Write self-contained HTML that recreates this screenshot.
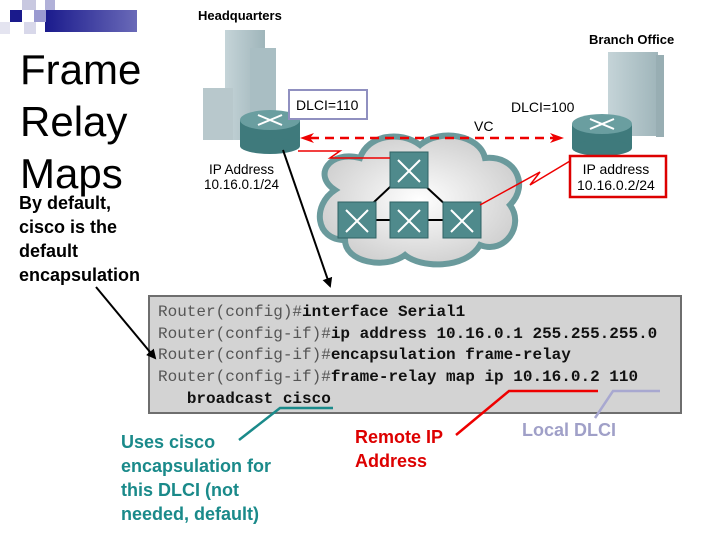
<!DOCTYPE html>
<html><head><meta charset="utf-8">
<style>
body{margin:0;width:720px;height:540px;background:#fff;position:relative;overflow:hidden;font-family:"Liberation Sans",sans-serif}
.t{position:absolute;white-space:nowrap}
.code{position:absolute;left:148px;top:295px;width:534px;height:119px;background:#d3d3d3;border:2px solid #6e6e6e;box-sizing:border-box;font-family:"Liberation Mono",monospace;font-size:16px;line-height:21.7px;padding:5px 0 0 8px;color:#555;white-space:pre}
.code b{color:#111}
</style></head><body>
<svg width="720" height="540" style="position:absolute;left:0;top:0">
<defs>
<linearGradient id="bl" x1="0" x2="1"><stop offset="0" stop-color="#1a1a8c"/><stop offset="1" stop-color="#6a6ab8"/></linearGradient>
<linearGradient id="bd" x1="0" x2="1"><stop offset="0" stop-color="#c5d4d8"/><stop offset="1" stop-color="#9fb5ba"/></linearGradient>
<radialGradient id="cl" cx="0.5" cy="0.5" r="0.6"><stop offset="0" stop-color="#fff"/><stop offset="1" stop-color="#c9c9c9"/></radialGradient>
<marker id="ab" markerWidth="10" markerHeight="10" refX="8" refY="5" orient="auto" markerUnits="userSpaceOnUse"><path d="M0,0L10,5L0,10z" fill="#000"/></marker>
<marker id="ar" markerWidth="14" markerHeight="10" refX="12" refY="5" orient="auto" markerUnits="userSpaceOnUse"><path d="M0,0L14,5L0,10L4,5z" fill="#e00"/></marker>
</defs>
<rect x="45" y="10" width="92" height="22" fill="url(#bl)"/>
<rect x="10" y="10" width="12" height="12" fill="#1a1a8c"/>
<rect x="22" y="0" width="14" height="10" fill="#c8c8e0"/>
<rect x="34" y="10" width="12" height="12" fill="#9a9ad0"/>
<rect x="24" y="22" width="12" height="12" fill="#d8d8ea"/>
<rect x="0" y="22" width="10" height="12" fill="#e4e4f0"/>
<rect x="45" y="0" width="10" height="10" fill="#b0b0d8"/>
<rect x="225" y="30" width="40" height="110" fill="url(#bd)"/>
<rect x="250" y="48" width="26" height="92" fill="#a9bec3"/>
<rect x="203" y="88" width="30" height="52" fill="#b8c8cc"/>
<rect x="608" y="52" width="50" height="84" fill="url(#bd)"/>
<rect x="656" y="55" width="8" height="82" fill="#98aeb3"/>
<path d="M335,190 C312,175 330,150 360,158 C368,135 400,130 420,145 C440,128 480,135 485,158 C515,155 530,185 510,205 C525,225 505,255 480,245 C465,270 420,268 405,255 C385,270 345,262 345,240 C315,240 312,205 335,190z" fill="url(#cl)" stroke="#6a9a9c" stroke-width="6"/>
<path d="M408,170L355,220M408,170L462,220M355,220L462,220" stroke="#000" stroke-width="2"/>
<g fill="#4f8a8c" stroke="#2f6264">
<rect x="390" y="152" width="38" height="36"/>
<rect x="338" y="202" width="38" height="36"/>
<rect x="390" y="202" width="38" height="36"/>
<rect x="443" y="202" width="38" height="36"/>
</g>
<g stroke="#fff" stroke-width="2" fill="none">
<path d="M398,160L420,182M420,160L398,182"/><path d="M346,210L368,232M368,210L346,232"/><path d="M398,210L420,232M420,210L398,232"/><path d="M451,210L473,232M473,210L451,232"/>
</g>
<path d="M298,151L340,151L330,158L390,158" stroke="#e00" stroke-width="1.5" fill="none"/>
<path d="M480,205L540,172L530,185L575,158" stroke="#e00" stroke-width="1.5" fill="none"/>
<line x1="310" y1="138" x2="562" y2="138" stroke="#e00" stroke-width="2.5" stroke-dasharray="9,6" marker-end="url(#ar)"/>
<path d="M300,138L314,133L310,138L314,143z" fill="#e00"/>
<g>
<rect x="240" y="120" width="60" height="26" fill="#3f7a7c"/>
<ellipse cx="270" cy="146" rx="30" ry="8" fill="#3f7a7c"/>
<ellipse cx="270" cy="120" rx="30" ry="10" fill="#6a9ea0"/>
<path d="M258,115L282,125M282,115L258,125" stroke="#fff" stroke-width="2"/>
</g>
<g>
<rect x="572" y="124" width="60" height="24" fill="#3f7a7c"/>
<ellipse cx="602" cy="148" rx="30" ry="8" fill="#3f7a7c"/>
<ellipse cx="602" cy="124" rx="30" ry="10" fill="#6a9ea0"/>
<path d="M590,119L614,129M614,119L590,129" stroke="#fff" stroke-width="2"/>
</g>
<rect x="289" y="90" width="78" height="29" fill="#fff" stroke="#9090c0" stroke-width="2"/>
<rect x="570" y="156" width="96" height="41" fill="#fff" stroke="#d00" stroke-width="2.5"/>
<line x1="283" y1="150" x2="330" y2="286" stroke="#000" stroke-width="2" marker-end="url(#ab)"/>
</svg>
<div class="t" style="left:198px;top:8px;font-size:13px;font-weight:bold">Headquarters</div>
<div class="t" style="left:589px;top:32px;font-size:13px;font-weight:bold">Branch Office</div>
<div class="t" style="left:296px;top:97px;font-size:14px">DLCI=110</div>
<div class="t" style="left:511px;top:99px;font-size:14px">DLCI=100</div>
<div class="t" style="left:474px;top:118px;font-size:14px">VC</div>
<div class="t" style="left:204px;top:162px;font-size:13.5px;line-height:15px;text-align:center">IP Address<br>10.16.0.1/24</div>
<div class="t" style="left:577px;top:161px;font-size:14px;line-height:16px;text-align:center">IP address<br>10.16.0.2/24</div>
<div class="t" style="left:20px;top:44px;font-size:42px;line-height:52px">Frame<br>Relay<br>Maps</div>
<div class="t" style="left:19px;top:191px;font-size:18px;line-height:24px;font-weight:bold">By default,<br>cisco is the<br>default<br>encapsulation</div>
<div class="code">Router(config)#<b>interface Serial1</b>
Router(config-if)#<b>ip address 10.16.0.1 255.255.255.0</b>
Router(config-if)#<b>encapsulation frame-relay</b>
Router(config-if)#<b>frame-relay map ip 10.16.0.2 110</b>
   <b>broadcast cisco</b></div>
<svg width="720" height="540" style="position:absolute;left:0;top:0">
<defs><marker id="ab2" markerWidth="10" markerHeight="10" refX="8" refY="5" orient="auto" markerUnits="userSpaceOnUse"><path d="M0,0L10,5L0,10z" fill="#000"/></marker></defs>
<line x1="96" y1="287" x2="155" y2="358" stroke="#000" stroke-width="2" marker-end="url(#ab2)"/>
<path d="M239,440L280,408L333,408" stroke="#1a8a8a" stroke-width="2.5" fill="none"/>
<path d="M456,435L509,391L598,391" stroke="#e00" stroke-width="2.5" fill="none"/>
<path d="M595,418L613,391L660,391" stroke="#a8a8d0" stroke-width="2.5" fill="none"/>
</svg>
<div class="t" style="left:121px;top:430px;font-size:18px;line-height:24px;font-weight:bold;color:#1a8a8a">Uses cisco<br>encapsulation for<br>this DLCI (not<br>needed, default)</div>
<div class="t" style="left:355px;top:425px;font-size:18px;line-height:24px;font-weight:bold;color:#d00">Remote IP<br>Address</div>
<div class="t" style="left:522px;top:420px;font-size:18px;font-weight:bold;color:#a0a0c8">Local DLCI</div>
</body></html>
